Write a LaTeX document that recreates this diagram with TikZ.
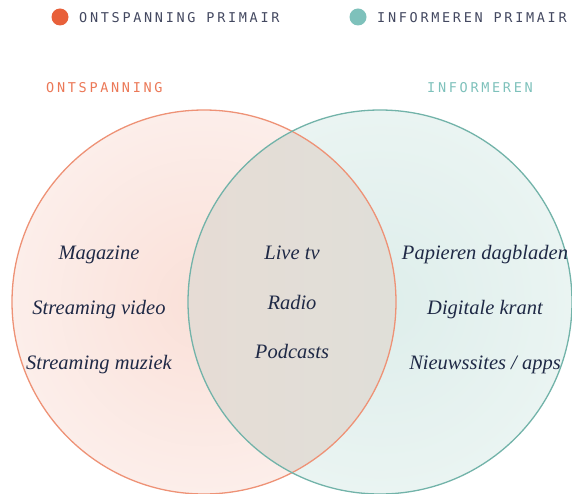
\documentclass[tikz,border=0pt]{standalone}
\usepackage{fontspec}
\setmainfont{Liberation Serif}
\newfontfamily\labelfont[LetterSpace=20]{DejaVu Sans Mono}
\definecolor{ontsp}{HTML}{E8603A}
\definecolor{ontspline}{HTML}{EE9276}
\definecolor{inform}{HTML}{7EC1BB}
\definecolor{informline}{HTML}{72B3A9}
\definecolor{legendtext}{HTML}{434860}
\definecolor{ink}{HTML}{1F2946}
\begin{document}
\begin{tikzpicture}[x=1pt, y=-1pt,
    legend/.style={anchor=base west, inner sep=0pt, text=legendtext, font=\labelfont\fontsize{13.5}{14}\selectfont},
    heading/.style={anchor=base west, inner sep=0pt, font=\labelfont\fontsize{13.5}{14}\selectfont},
    item/.style={anchor=base, inner sep=0pt, text=ink, font=\itshape\fontsize{20.5}{24}\selectfont}]
    \useasboundingbox (0,0) rectangle (572,494);
    \clip (0,0) rectangle (572,494);

    % the two sets
    \shade[inner color={rgb,255:red,250;green,224;blue,216}, outer color={rgb,255:red,252;green,238;blue,234}]
        (204,302) circle (192);
    \shade[inner color={rgb,255:red,222;green,238;blue,235}, outer color={rgb,255:red,234;green,244;blue,242}]
        (380,302) circle (192);
    % overlap
    \begin{scope}
        \clip (204,302) circle (192);
        \shade[left color={rgb,255:red,230;green,220;blue,213}, right color={rgb,255:red,218;green,225;blue,219}]
            (380,302) circle (192);
    \end{scope}
    \draw[ontspline, line width=1.3pt] (204,302) circle (192);
    \draw[informline, line width=1.3pt] (380,302) circle (192);

    % legend
    \fill[ontsp] (60,17) circle (8.5);
    \node[legend] (lego) at (79,23) {ONTSPANNING PRIMAIR};
    \fill[inform] (358,17) circle (8.5);
    \node[legend] (legi) at (377,23) {INFORMEREN PRIMAIR};

    % set titles
    \node[heading, text=ontsp!85!white] (titleo) at (46,93) {ONTSPANNING};
    \node[heading, text=inform] (titlei) at (427,93) {INFORMEREN};

    % left only
    \node[item] (magazine) at (99,259) {Magazine};
    \node[item] (video) at (99,314) {Streaming video};
    \node[item] (muziek) at (99,369) {Streaming muziek};

    % both
    \node[item] (tv) at (292,259) {Live tv};
    \node[item] (radio) at (292,309) {Radio};
    \node[item] (podcasts) at (292,358) {Podcasts};

    % right only
    \node[item] (dagbladen) at (485,259) {Papieren dagbladen};
    \node[item] (krant) at (485,314) {Digitale krant};
    \node[item] (sites) at (485,369) {Nieuwssites / apps};
\end{tikzpicture}
\end{document}
